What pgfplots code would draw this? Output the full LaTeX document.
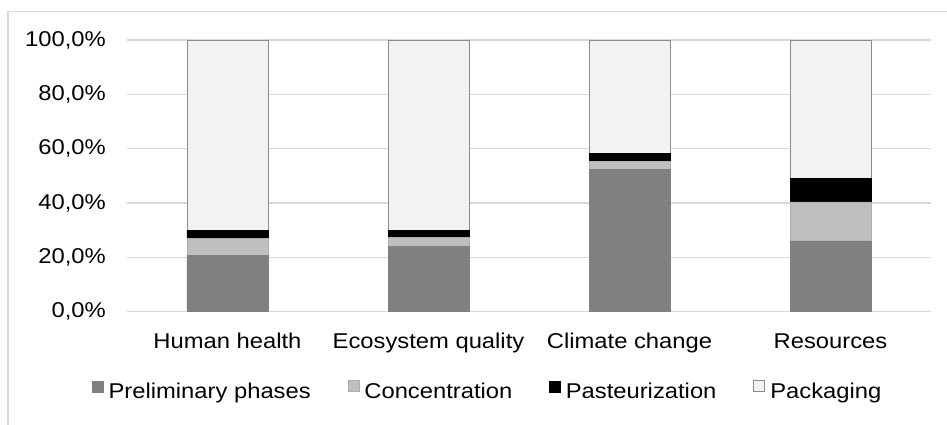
\documentclass[border=0pt]{standalone}
\usepackage{pgfplots}
\pgfplotsset{compat=1.18}
\usepackage{fontspec}
\setmainfont{Liberation Sans}[FakeStretch=1.11]
\definecolor{cPre}{HTML}{808080}
\definecolor{cCon}{HTML}{BFBFBF}
\definecolor{cPas}{HTML}{000000}
\definecolor{cPack}{HTML}{F2F2F2}
\definecolor{cGrid}{HTML}{D9D9D9}
\definecolor{cEdge}{HTML}{8C8C8C}
\begin{document}
\begin{tikzpicture}
\begin{axis}[
  at={(0bp,0bp)}, anchor=south west,
  scale only axis, width=804bp, height=271.5bp,
  ybar stacked, bar width=81bp,
  xmin=-0.5, xmax=3.5, ymin=0, ymax=100,
  xtick={0,1,2,3},
  xticklabels={Human health, Ecosystem quality, Climate change, Resources},
  ytick={0,20,40,60,80,100},
  yticklabels={{0,0\%},{20,0\%},{40,0\%},{60,0\%},{80,0\%},{100,0\%}},
  major tick length=0pt,
  axis line style={draw=none},
  ymajorgrids, grid style={color=cGrid, line width=1.3bp},
  tick label style={font=\fontsize{21.5}{25}\selectfont},
  yticklabel style={anchor=east, inner sep=0pt, xshift=-21bp},
  xticklabel style={anchor=base, inner sep=0pt, yshift=-36.5bp},
  legend columns=4,
  legend style={at={(-35bp,-89bp)}, anchor=south west, draw=none, fill=none,
    font=\fontsize{21.5}{25}\selectfont, inner sep=0pt,
    nodes={inner sep=0pt, anchor=west},
    /tikz/every odd column/.append style={column sep=5bp},
    /tikz/every even column/.append style={column sep=37bp}},
  legend image code/.code={\draw[#1] (0bp,0bp) rectangle (11bp,11bp);},
]
\addplot[fill=cPre, draw=cPre] coordinates {(0,20.8) (1,23.9) (2,52.4) (3,26.0)};
\addlegendentry{Preliminary phases}
\addplot[fill=cCon, draw=cEdge!70, line width=0.6bp] coordinates {(0,6.2) (1,3.4) (2,2.8) (3,14.4)};
\addlegendentry{Concentration}
\addplot[fill=cPas, draw=cPas] coordinates {(0,2.8) (1,2.7) (2,3.1) (3,8.7)};
\addlegendentry{Pasteurization}
\addplot[fill=cPack, draw=cEdge, line width=0.9bp] coordinates {(0,70.2) (1,70.0) (2,41.7) (3,50.9)};
\addlegendentry{Packaging}
\end{axis}
\draw[cGrid, line width=1.3bp] (-119bp,-114bp) -- (-119bp,300bp) -- (821bp,300bp);
\pgfresetboundingbox
\path[use as bounding box] (-127bp,-113.5bp) rectangle (820bp,311.5bp);
\end{tikzpicture}
\end{document}
